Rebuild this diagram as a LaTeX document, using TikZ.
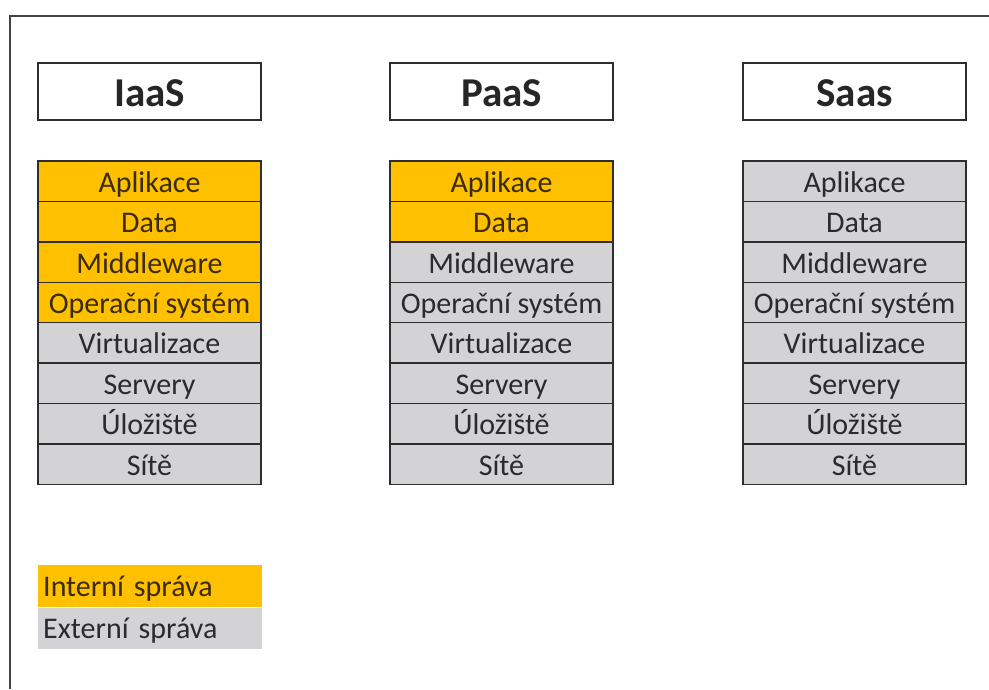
\documentclass[tikz,border=0pt]{standalone}
\usepackage{fontspec}
\setmainfont{Carlito}
\definecolor{intern}{HTML}{FFC000}
\definecolor{extern}{HTML}{D3D3D5}
\definecolor{interntext}{HTML}{3A2C08}
\definecolor{externtext}{HTML}{2A2A30}
\definecolor{edge}{HTML}{2E2E2E}
\begin{document}
\begin{tikzpicture}[x=1pt,y=-1pt,
  frame/.style={draw=edge!90, line width=1.8pt},
  titlebox/.style={draw=edge, line width=1.5pt, fill=white, minimum width=223pt,
    minimum height=57pt, inner sep=0pt, text height=29pt, text depth=0pt,
    font=\fontsize{41}{42}\selectfont\bfseries, text=black!85},
  cell/.style={draw=edge, line width=1.4pt, minimum width=223pt, minimum height=40.4pt,
    inner sep=0pt, text height=22pt, text depth=0pt, font=\fontsize{30}{31}\selectfont},
  intcell/.style={fill=intern, text=interntext},
  extcell/.style={fill=extern, text=externtext},
  legendrow/.style={anchor=north west, minimum width=224pt, inner xsep=5pt, inner ysep=0pt,
    text width=214pt, align=left, text height=21pt, text depth=0pt,
    font=\fontsize{30}{31}\selectfont}]
\useasboundingbox (0,0) rectangle (989,689);
\fill[white] (0,0) rectangle (989,689);

% outer frame (top and left edges)
\coordinate (fbl) at (10,689);
\coordinate (ftl) at (10,16);
\coordinate (ftr) at (989,16);
\draw[frame] (fbl) -- (ftl) -- (ftr);

% column headings
\node[titlebox] (iaas) at (149.5,91.5) {IaaS};
\node[titlebox] (paas) at (501.5,91.5) {PaaS};
\node[titlebox] (saas) at (854.5,91.5) {Saas};

% layer stacks: the first \k layers are managed internally
\foreach \col/\cx/\k in {iaas/149.5/4, paas/501.5/2, saas/854.5/0} {
  \foreach \lab [count=\i] in {Aplikace,Data,Middleware,Operační systém,Virtualizace,Servery,Úložiště,Sítě} {
    \ifnum\i>\k\relax \def\st{extcell}\else\def\st{intcell}\fi
    \node[cell, \st] (\col-\i) at (\cx, {161+40.4*(\i-0.5)}) {\lab};
  }
}

% legend
\node[legendrow, fill=intern, text=interntext, minimum height=42pt] (legint) at (38,565) {Interní správa};
\node[legendrow, fill=extern, text=externtext, minimum height=41pt] (legext) at (legint.south west) {Externí správa};
\end{tikzpicture}
\end{document}
